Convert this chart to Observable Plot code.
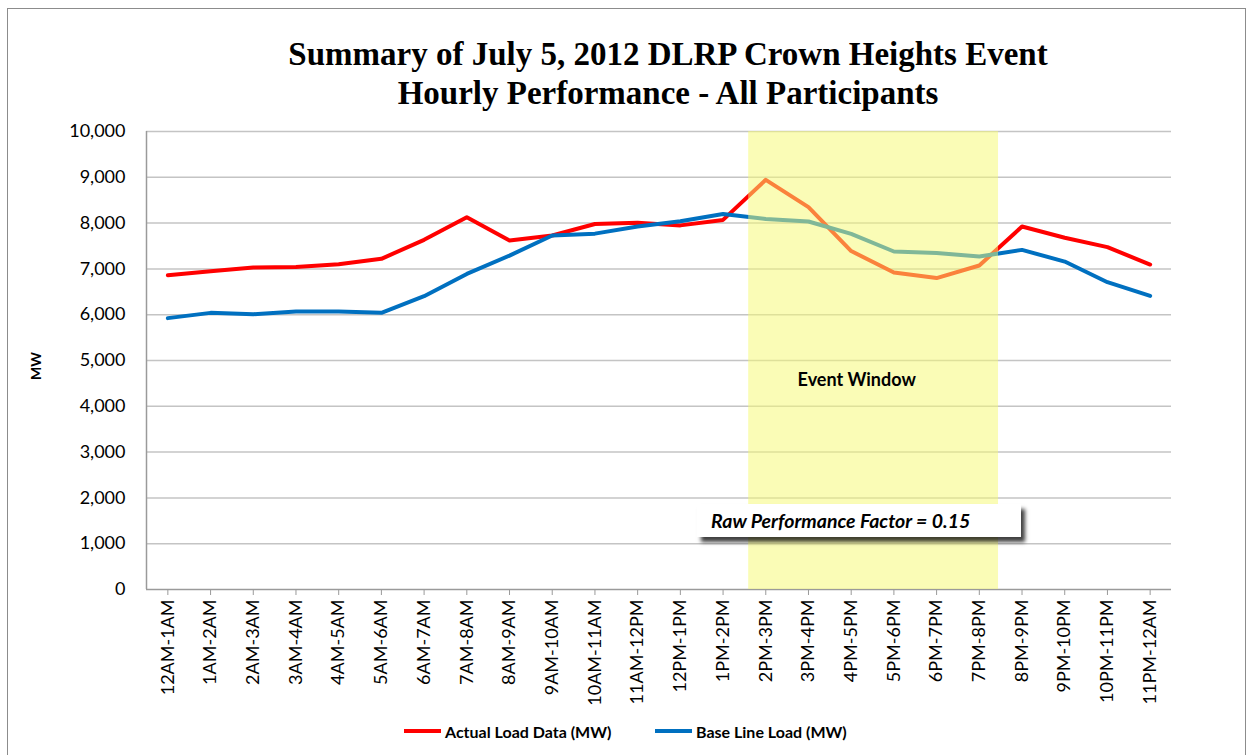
<!DOCTYPE html>
<html>
<head>
<meta charset="utf-8">
<script src="https://cdn.jsdelivr.net/npm/d3@7"></script>
<script src="https://cdn.jsdelivr.net/npm/@observablehq/plot@0.6"></script>
<style>
  html, body { margin: 0; padding: 0; background: #fff; }
  #wrap { position: relative; width: 1249px; height: 755px; overflow: hidden; font-family: Lato, "Open Sans", sans-serif; }
  #frame { position: absolute; left: 7px; top: 8px; width: 1239px; height: 760px; border: 1.5px solid #8c8c8c; box-sizing: border-box; }
  #title { position: absolute; left: 68px; width: 1200px; top: 35px; text-align: center; font-family: "Liberation Serif", "Times New Roman", serif; font-weight: bold; font-size: 33px; line-height: 39px; color: #000; }
  #mw { position: absolute; left: 35px; top: 366px; transform: translate(-50%, -50%) rotate(-90deg); font-weight: bold; font-size: 14px; color: #000; }
  #legend { position: absolute; top: 719px; left: 0; width: 1249px; height: 24px; font-weight: bold; font-size: 16px; color: #000; }
  .item { position: absolute; top: 0; display: flex; align-items: center; height: 24px; }
  .sw { width: 37px; height: 4px; margin-right: 4px; }
  #rpf { position: absolute; left: 697px; top: 504px; width: 324px; height: 33px; background: #fff; box-shadow: 4px 5px 4px rgba(0,0,0,0.75); font-style: italic; font-weight: bold; font-size: 19.5px; line-height: 33px; padding-left: 14px; box-sizing: border-box; color: #000; white-space: nowrap; }
  #chart svg [aria-label^="x-axis"] line, #chart svg [aria-label^="x-axis"] path { stroke: #9a9a9a; }
</style>
</head>
<body>
<div id="wrap">
  <div id="frame"></div>
  <div id="chart" style="position:absolute;left:0;top:0;"></div>
  <div id="title">Summary of July 5, 2012 DLRP Crown Heights Event<br>Hourly Performance - All Participants</div>
  <div id="mw">MW</div>
  <div id="rpf">Raw Performance Factor = 0.15</div>
  <div id="legend">
    <div class="item" style="left:404px;"><div class="sw" style="background:#ff0000"></div>Actual Load Data (MW)</div>
    <div class="item" style="left:655px;"><div class="sw" style="background:#0070c0"></div>Base Line Load (MW)</div>
  </div>
</div>
<script>
const hours = ["12AM-1AM","1AM-2AM","2AM-3AM","3AM-4AM","4AM-5AM","5AM-6AM","6AM-7AM","7AM-8AM","8AM-9AM","9AM-10AM","10AM-11AM","11AM-12PM","12PM-1PM","1PM-2PM","2PM-3PM","3PM-4PM","4PM-5PM","5PM-6PM","6PM-7PM","7PM-8PM","8PM-9PM","9PM-10PM","10PM-11PM","11PM-12AM"];
const actualLoad = [6860, 6950, 7030, 7040, 7100, 7220, 7635, 8130, 7620, 7730, 7980, 8010, 7950, 8070, 8945, 8350, 7390, 6920, 6800, 7075, 7925, 7680, 7475, 7095];
const baseLineLoad = [5925, 6040, 6010, 6070, 6070, 6040, 6405, 6890, 7290, 7730, 7770, 7925, 8040, 8200, 8090, 8035, 7765, 7380, 7345, 7270, 7415, 7160, 6710, 6410];
const yTicks = [0, 1000, 2000, 3000, 4000, 5000, 6000, 7000, 8000, 9000, 10000];
const eventWindow = [13.6, 19.45]; // in hour-index units
const eventLabel = "Event Window";
const eventLabelPos = [16.13, 4560];

const rows = hours.map((h, i) => ({i, hour: h, actual: actualLoad[i], base: baseLineLoad[i]}));

const chart = Plot.plot({
  width: 1249,
  height: 755,
  marginLeft: 146,
  marginRight: 78,
  marginTop: 131,
  marginBottom: 166,
  style: {fontFamily: "Lato, 'Open Sans', sans-serif", fontSize: "18px", color: "#000", background: "transparent", overflow: "visible"},
  x: {type: "linear", domain: [-0.5, 23.5], ticks: d3.range(hours.length), tickFormat: i => hours[i], tickRotate: -90, tickSize: 6, tickPadding: 4, label: null},
  y: {domain: [0, 10000], ticks: yTicks, tickFormat: d3.format(","), tickSize: 0, tickPadding: 21, label: null},
  marks: [
    Plot.ruleY(yTicks.slice(1), {stroke: "#c4c4c4", strokeWidth: 1.5}),
    Plot.ruleY([0], {stroke: "#9a9a9a", strokeWidth: 1.5}),
    Plot.ruleX([-0.5], {stroke: "#9a9a9a", strokeWidth: 1.5}),
    Plot.line(rows, {x: "i", y: "actual", stroke: "#ff0000", strokeWidth: 4}),
    Plot.line(rows, {x: "i", y: "base", stroke: "#0070c0", strokeWidth: 4}),
    Plot.rect([eventWindow], {x1: d => d[0], x2: d => d[1], y1: d => 0, y2: d => 10000, fill: "rgb(246,250,115)", fillOpacity: 0.52}),
    Plot.text([eventLabel], {x: d => eventLabelPos[0], y: d => eventLabelPos[1], text: d => d, fontWeight: "bold", fontSize: 18})
  ]
});
document.getElementById("chart").appendChild(chart);
</script>
</body>
</html>
